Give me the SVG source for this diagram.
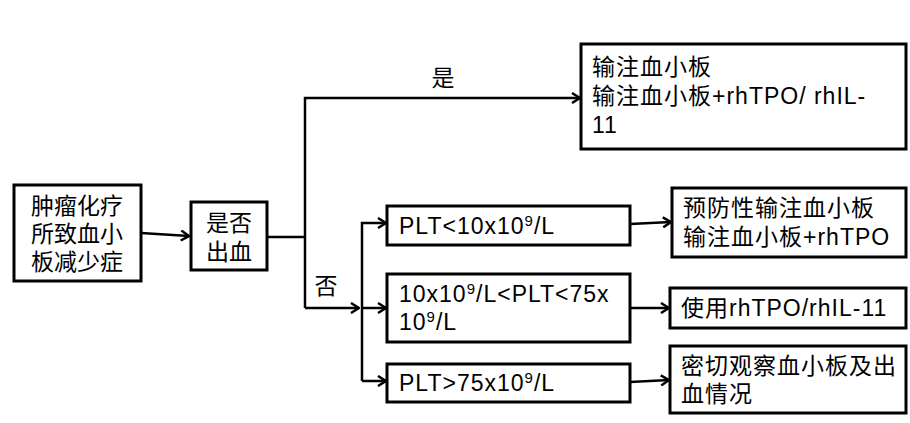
<svg xmlns="http://www.w3.org/2000/svg" width="910" height="423" viewBox="0 0 910 423">
<style>
.box{fill:#fff;stroke:#000;stroke-width:3}
.t{font-family:"Liberation Sans","Noto Sans CJK SC",sans-serif;font-size:23px;fill:#000;letter-spacing:1px}
.c{text-anchor:middle;letter-spacing:0}
.ln{fill:none;stroke:#000;stroke-width:2.5}
.sup{font-size:15px}
</style>
<defs>
<marker id="ah" viewBox="0 0 12 12" refX="11" refY="6" markerWidth="12" markerHeight="12" markerUnits="userSpaceOnUse" orient="auto">
<path d="M3,1 L11,6 L3,11" fill="none" stroke="#000" stroke-width="2.5"/>
</marker>
</defs>
<rect width="910" height="423" fill="#fff"/>
<g id="connectors">
<path class="ln" d="M141,233 L189,236" marker-end="url(#ah)"/>
<path class="ln" d="M267,237 L305,237"/>
<path class="ln" d="M305,308 L305,98 L580,98" marker-end="url(#ah)"/>
<path class="ln" d="M305,308 L359,308" marker-end="url(#ah)"/>
<path class="ln" d="M362,381 L362,223 L386,223" marker-end="url(#ah)"/>
<path class="ln" d="M362,308 L386,308" marker-end="url(#ah)"/>
<path class="ln" d="M362,381 L386,381" marker-end="url(#ah)"/>
<path class="ln" d="M630,224 L671,222" marker-end="url(#ah)"/>
<path class="ln" d="M630,308 L669,308" marker-end="url(#ah)"/>
<path class="ln" d="M630,382 L669,380" marker-end="url(#ah)"/>
<text class="t c" x="443" y="86">是</text>
<text class="t c" x="326" y="294">否</text>
</g>
<g id="n1">
<rect class="box" x="14" y="185" width="127" height="96"/>
<text class="t c" x="77" y="214">肿瘤化疗</text>
<text class="t c" x="77" y="242">所致血小</text>
<text class="t c" x="77" y="270">板减少症</text>
</g>
<g id="n2">
<rect class="box" x="191" y="202" width="76" height="68"/>
<text class="t c" x="229" y="231">是否</text>
<text class="t c" x="229" y="260">出血</text>
</g>
<g id="n3">
<rect class="box" x="581" y="44" width="325" height="105"/>
<text class="t" x="592" y="75">输注血小板</text>
<text class="t" x="592" y="104">输注血小板+rhTPO/ rhIL-</text>
<text class="t" x="592" y="133">11</text>
</g>
<g id="n4">
<rect class="box" x="387" y="206" width="243" height="39"/>
<text class="t" x="399" y="234">PLT&lt;10x10<tspan class="sup" dy="-8">9</tspan><tspan dy="8">/L</tspan></text>
</g>
<g id="n5">
<rect class="box" x="387" y="274" width="243" height="68"/>
<text class="t" x="399" y="302">10x10<tspan class="sup" dy="-8">9</tspan><tspan dy="8">/L&lt;PLT&lt;75x</tspan></text>
<text class="t" x="399" y="330">10<tspan class="sup" dy="-8">9</tspan><tspan dy="8">/L</tspan></text>
</g>
<g id="n6">
<rect class="box" x="387" y="364" width="243" height="38"/>
<text class="t" x="399" y="391">PLT&gt;75x10<tspan class="sup" dy="-8">9</tspan><tspan dy="8">/L</tspan></text>
</g>
<g id="n7">
<rect class="box" x="672" y="188" width="234" height="69"/>
<text class="t" x="683" y="216">预防性输注血小板</text>
<text class="t" x="683" y="245">输注血小板+rhTPO</text>
</g>
<g id="n8">
<rect class="box" x="670" y="288" width="236" height="40"/>
<text class="t" x="681" y="316">使用rhTPO/rhIL-11</text>
</g>
<g id="n9">
<rect class="box" x="670" y="346" width="236" height="67"/>
<text class="t" x="681" y="374">密切观察血小板及出</text>
<text class="t" x="681" y="402">血情况</text>
</g>
</svg>
